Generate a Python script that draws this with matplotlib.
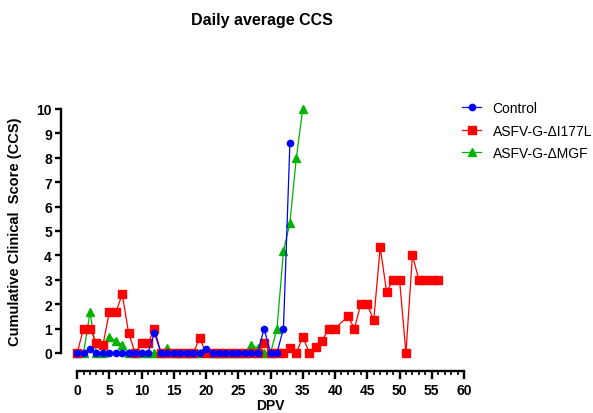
import numpy as np
import matplotlib.pyplot as plt
from matplotlib.ticker import MultipleLocator, FixedLocator

plt.rcParams['font.family'] = ['Liberation Sans', 'DejaVu Sans']

# Control
ctrl_days = list(range(0, 34))
ctrl_ccs = [0, 0, 0.17, 0, 0, 0, 0, 0, 0, 0, 0, 0, 0.83, 0, 0, 0, 0, 0, 0, 0,
            0.17, 0, 0, 0, 0, 0, 0, 0, 0, 1.0, 0, 0, 1.0, 8.6]

# ASFV-G-dI177L
i177_days = list(range(0, 41)) + list(range(42, 57))
i177_ccs = [0, 1.0, 1.0, 0.4, 0.33, 1.67, 1.67, 2.4, 0.8, 0, 0.4, 0.4, 1.0, 0, 0, 0, 0, 0, 0, 0.6,
            0, 0, 0, 0, 0, 0, 0, 0, 0, 0.4, 0, 0, 0, 0.2, 0, 0.67, 0, 0.25, 0.5, 1.0,
            1.0, 1.5, 1.0, 2.0, 2.0, 1.33, 4.33, 2.5, 3.0, 3.0, 0, 4.0, 3.0, 3.0, 3.0, 3.0]

# ASFV-G-dMGF
mgf_days = list(range(0, 36))
mgf_ccs = [0, 0, 1.67, 0, 0, 0.67, 0.5, 0.33, 0, 0, 0, 0, 0, 0, 0.2, 0, 0, 0, 0, 0,
           0.1, 0, 0, 0, 0, 0, 0, 0.33, 0.2, 0, 0, 1.0, 4.17, 5.33, 8.0, 10.0]

fig = plt.figure(figsize=(5.93, 4.14), dpi=100)
ax = fig.add_axes([61 / 593, 42 / 414, 403 / 593, 267 / 414])

ax.plot(mgf_days, mgf_ccs, color='#00B400', marker='^', markersize=6, lw=0.9,
        label='ASFV-G-ΔMGF', zorder=2)
ax.plot(i177_days, i177_ccs, color='#FF0000', marker='s', markersize=5.5, lw=0.9,
        label='ASFV-G-ΔI177L', zorder=3)
ax.plot(ctrl_days, ctrl_ccs, color='#0000FF', marker='o', markersize=4.5, lw=0.9,
        label='Control', zorder=4)

ymin, ymax = -0.74, 10.2
ax.set_xlim(-2.5, 60)
ax.set_ylim(ymin, ymax)

for s in ['top', 'right']:
    ax.spines[s].set_visible(False)
ax.spines['left'].set_bounds(0, 10)
ax.spines['bottom'].set_bounds(0, 60)
ax.spines['left'].set_linewidth(1.7)
ax.spines['bottom'].set_linewidth(1.7)

ax.xaxis.set_major_locator(MultipleLocator(5))
ax.xaxis.set_minor_locator(FixedLocator([d for d in range(0, 61) if d % 5]))
ax.yaxis.set_major_locator(MultipleLocator(1))
ax.tick_params(axis='x', which='major', length=5.5, width=1.7, labelsize=10, pad=3)
ax.tick_params(axis='x', which='minor', length=3, width=1.2)
ax.tick_params(axis='y', which='major', length=4.5, width=1.7, labelsize=10, pad=2)
for lab in ax.get_xticklabels() + ax.get_yticklabels():
    lab.set_fontweight('bold')

ax.set_xlabel('DPV', fontsize=10, fontweight='bold')
ax.xaxis.set_label_coords(32.5 / 62.5, -0.10)
ax.set_ylabel('Cumulative Clinical  Score (CCS)', fontsize=10.5, fontweight='bold')
ax.yaxis.set_label_coords(-0.097, (5 - ymin) / (ymax - ymin))

fig.text(262 / 593, 1 - 20 / 414, 'Daily average CCS', ha='center', va='center',
         fontsize=11.5, fontweight='bold')

handles, labels = ax.get_legend_handles_labels()
order = [2, 1, 0]
fig.legend([handles[i] for i in order], [labels[i] for i in order],
           loc='upper left', bbox_to_anchor=(455 / 593, 1 - 95 / 414),
           frameon=False, fontsize=10, handlelength=1.4, handletextpad=0.8,
           labelspacing=0.62, borderpad=0)

fig.savefig('out.png', dpi=100)
